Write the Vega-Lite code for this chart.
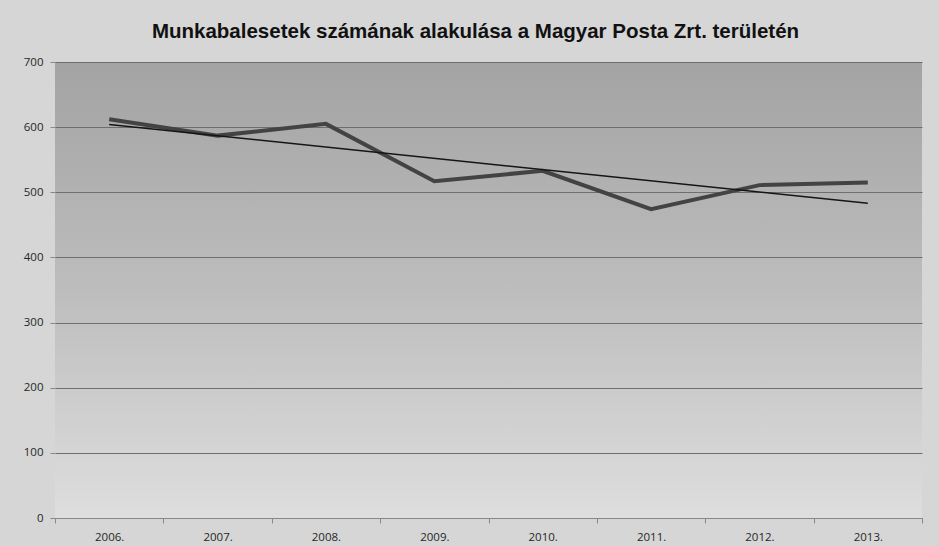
{
  "$schema": "https://vega.github.io/schema/vega-lite/v6.json",
  "width": 867,
  "height": 456,
  "autosize": {"type": "none"},
  "padding": {"left": 55, "top": 62, "right": 17, "bottom": 28},
  "background": "#d6d6d6",
  "title": {
    "text": "Munkabalesetek számának alakulása a Magyar Posta Zrt. területén",
    "font": "Liberation Sans",
    "fontSize": 20.5,
    "fontWeight": "bold",
    "color": "#111111",
    "anchor": "middle",
    "dx": -13,
    "offset": 14
  },
  "config": {
    "view": {
      "fill": {
        "gradient": "linear",
        "x1": 0, "y1": 0, "x2": 0, "y2": 1,
        "stops": [
          {"offset": 0, "color": "#a3a3a3"},
          {"offset": 0.5, "color": "#bdbdbd"},
          {"offset": 1, "color": "#dedede"}
        ]
      },
      "stroke": null
    },
    "axis": {
      "labelFont": "Open Sans",
      "labelFontSize": 11.5,
      "labelColor": "#262626",
      "tickColor": "#888888",
      "domainColor": "#888888",
      "title": null
    }
  },
  "datasets": {
    "main": [
      {"year": "2006.", "count": 612},
      {"year": "2007.", "count": 587},
      {"year": "2008.", "count": 605},
      {"year": "2009.", "count": 517},
      {"year": "2010.", "count": 533},
      {"year": "2011.", "count": 474},
      {"year": "2012.", "count": 511},
      {"year": "2013.", "count": 515}
    ],
    "trend": [
      {"year": "2006.", "count": 604},
      {"year": "2013.", "count": 483}
    ]
  },
  "layer": [
    {
      "data": {"name": "main"},
      "mark": {"type": "line", "color": "#434343", "strokeWidth": 4},
      "encoding": {
        "x": {
          "field": "year", "type": "ordinal",
          "scale": {"type": "band", "paddingInner": 0, "paddingOuter": 0, "domain": ["2006.","2007.","2008.","2009.","2010.","2011.","2012.","2013."]},
          "bandPosition": 0.5,
          "axis": {"labelAngle": 0, "tickBand": "extent", "tickSize": 5, "labelPadding": 8, "grid": false}
        },
        "y": {
          "field": "count", "type": "quantitative",
          "scale": {"domain": [0, 700], "nice": false},
          "axis": {"values": [0,100,200,300,400,500,600,700], "grid": true, "gridColor": "#6e6e6e", "gridWidth": 1, "domain": false, "tickSize": 5, "labelPadding": 7}
        }
      }
    },
    {
      "data": {"name": "trend"},
      "mark": {"type": "line", "color": "#151515", "strokeWidth": 1.5},
      "encoding": {
        "x": {"field": "year", "type": "ordinal", "bandPosition": 0.5},
        "y": {"field": "count", "type": "quantitative"}
      }
    }
  ]
}
